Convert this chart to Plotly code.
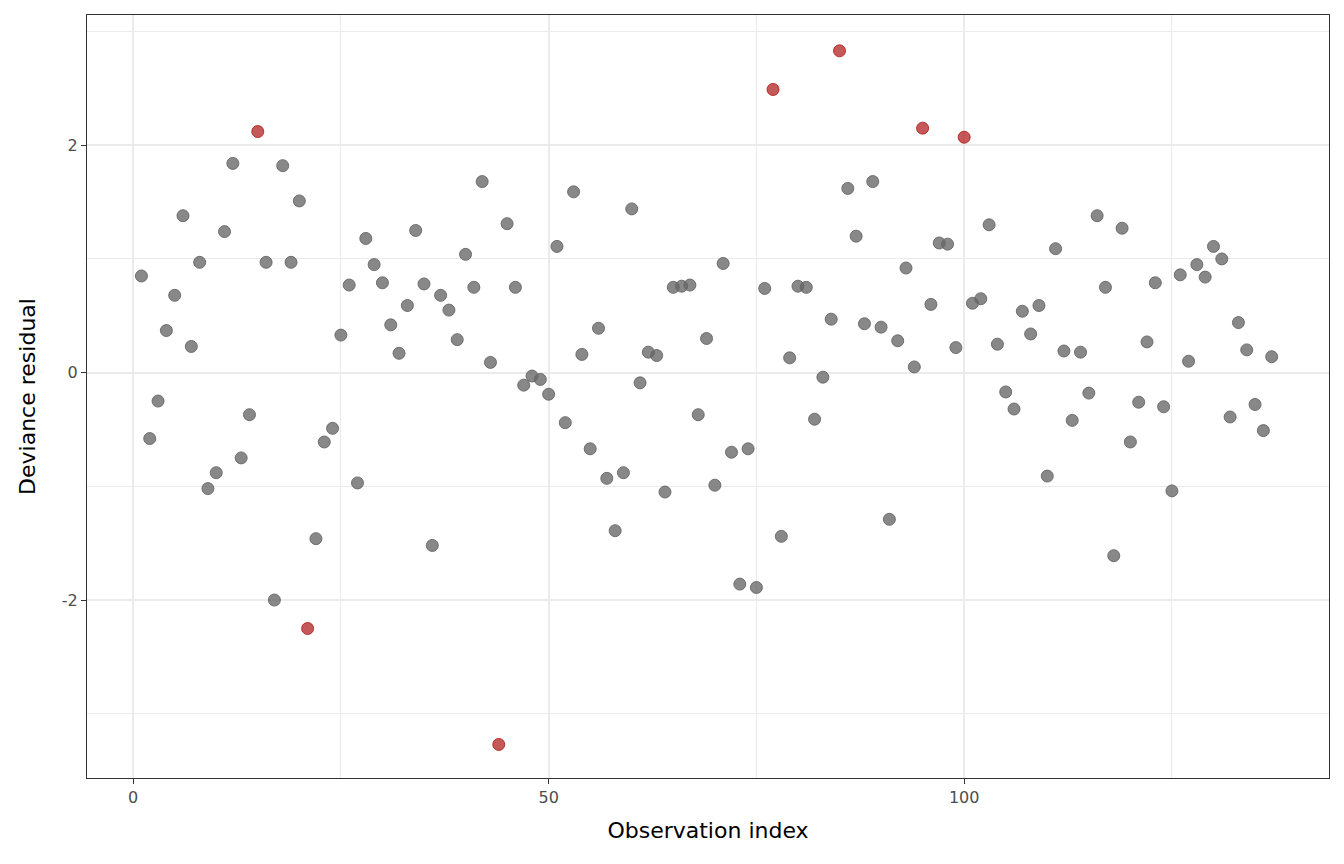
import plotly.graph_objects as go

index = list(range(1, 138))
residual = [
    0.85, -0.58, -0.25, 0.37, 0.68, 1.38, 0.23, 0.97, -1.02, -0.88,
    1.24, 1.84, -0.75, -0.37, 2.12, 0.97, -2.00, 1.82, 0.97, 1.51,
    -2.25, -1.46, -0.61, -0.49, 0.33, 0.77, -0.97, 1.18, 0.95, 0.79,
    0.42, 0.17, 0.59, 1.25, 0.78, -1.52, 0.68, 0.55, 0.29, 1.04,
    0.75, 1.68, 0.09, -3.27, 1.31, 0.75, -0.11, -0.03, -0.06, -0.19,
    1.11, -0.44, 1.59, 0.16, -0.67, 0.39, -0.93, -1.39, -0.88, 1.44,
    -0.09, 0.18, 0.15, -1.05, 0.75, 0.76, 0.77, -0.37, 0.30, -0.99,
    0.96, -0.70, -1.86, -0.67, -1.89, 0.74, 2.49, -1.44, 0.13, 0.76,
    0.75, -0.41, -0.04, 0.47, 2.83, 1.62, 1.20, 0.43, 1.68, 0.40,
    -1.29, 0.28, 0.92, 0.05, 2.15, 0.60, 1.14, 1.13, 0.22, 2.07,
    0.61, 0.65, 1.30, 0.25, -0.17, -0.32, 0.54, 0.34, 0.59, -0.91,
    1.09, 0.19, -0.42, 0.18, -0.18, 1.38, 0.75, -1.61, 1.27, -0.61,
    -0.26, 0.27, 0.79, -0.30, -1.04, 0.86, 0.10, 0.95, 0.84, 1.11,
    1.00, -0.39, 0.44, 0.20, -0.28, -0.51, 0.14,
]

x_ticks = [0, 50, 100]
x_ticktext = ["0", "50", "100"]
y_ticks = [-2, 0, 2]
y_ticktext = ["-2", "0", "2"]

normal_x = [i for i, r in zip(index, residual) if abs(r) <= 2]
normal_y = [r for r in residual if abs(r) <= 2]
out_x = [i for i, r in zip(index, residual) if abs(r) > 2]
out_y = [r for r in residual if abs(r) > 2]

fig = go.Figure()
fig.add_trace(go.Scatter(
    x=normal_x, y=normal_y, mode="markers",
    marker=dict(size=12, color="rgba(102,102,102,0.78)",
                line=dict(width=1, color="rgba(102,102,102,0.9)")),
    showlegend=False, hoverinfo="x+y",
))
fig.add_trace(go.Scatter(
    x=out_x, y=out_y, mode="markers",
    marker=dict(size=12, color="rgba(178,34,34,0.75)",
                line=dict(width=1, color="rgba(178,34,34,0.9)")),
    showlegend=False, hoverinfo="x+y",
))

axis_common = dict(
    showline=True, linecolor="#333333", linewidth=1, mirror=True,
    ticks="outside", ticklen=5, tickcolor="#333333", tickwidth=1,
    tickfont=dict(family="DejaVu Sans", size=16, color="#4d4d4d"),
    gridcolor="#ebebeb", gridwidth=1.5, zeroline=False,
)

fig.update_layout(
    width=1344, height=864,
    margin=dict(l=87, r=15, t=15, b=86),
    paper_bgcolor="white", plot_bgcolor="white",
    font=dict(family="DejaVu Sans", color="black"),
    xaxis=dict(
        range=[-5.55, 143.9], tickmode="array", tickvals=x_ticks, ticktext=x_ticktext,
        title=dict(text="Observation index", font=dict(size=22, color="black"), standoff=16),
        minor=dict(tickvals=[25, 75, 125], showgrid=True, gridcolor="#ebebeb", gridwidth=0.8, ticks=""),
        **axis_common,
    ),
    yaxis=dict(
        range=[-3.565, 3.145], tickmode="array", tickvals=y_ticks, ticktext=y_ticktext,
        title=dict(text="Deviance residual", font=dict(size=22, color="black"), standoff=20),
        minor=dict(tickvals=[-3, -1, 1, 3], showgrid=True, gridcolor="#ebebeb", gridwidth=0.8, ticks=""),
        **axis_common,
    ),
)

fig.write_html("out.html")
